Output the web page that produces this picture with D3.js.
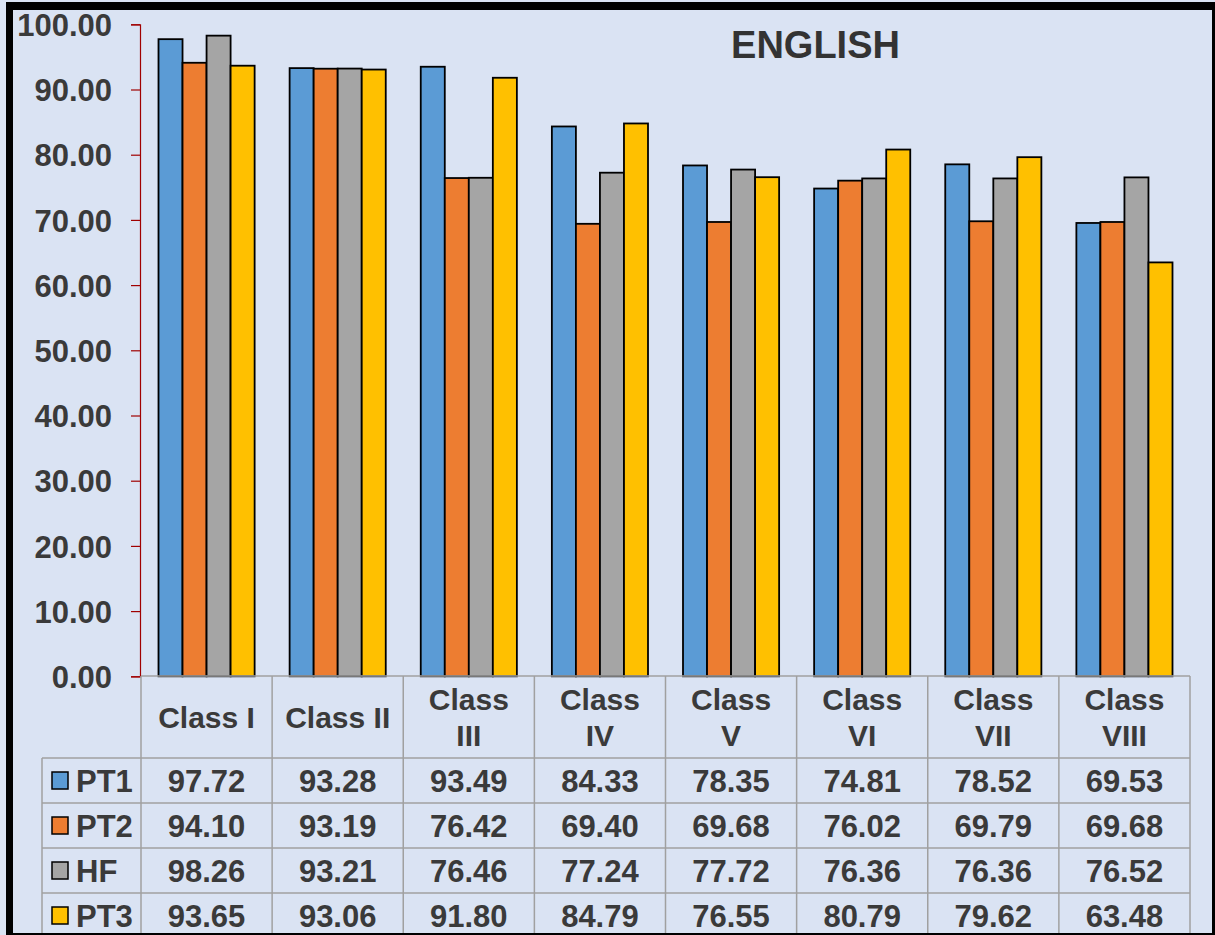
<!DOCTYPE html>
<html><head><meta charset="utf-8">
<script src="https://cdn.jsdelivr.net/npm/d3@7"></script>
<style>html,body{margin:0;padding:0;background:#dae3f3;}svg{display:block;}</style>
</head><body>
<svg id="c" width="1215" height="935"></svg>
<script>
const categories = ["Class I","Class II","Class III","Class IV","Class V","Class VI","Class VII","Class VIII"];
const categoryLines = [["Class I"],["Class II"],["Class","III"],["Class","IV"],["Class","V"],["Class","VI"],["Class","VII"],["Class","VIII"]];
const seriesNames = ["PT1","PT2","HF","PT3"];
const seriesColors = ["#5b9bd5","#ed7d31","#a5a5a5","#ffc000"];
const PT1 = [97.72,93.28,93.49,84.33,78.35,74.81,78.52,69.53];
const PT2 = [94.10,93.19,76.42,69.40,69.68,76.02,69.79,69.68];
const HF  = [98.26,93.21,76.46,77.24,77.72,76.36,76.36,76.52];
const PT3 = [93.65,93.06,91.80,84.79,76.55,80.79,79.62,63.48];
const seriesValues = [PT1,PT2,HF,PT3];
const yTicks = [0,10,20,30,40,50,60,70,80,90,100];
const title = "ENGLISH";

const svg = d3.select("#c");
const font = "'Liberation Sans', Arial, sans-serif";
const textColor = "#3a3a3a";
const gridColor = "#a0a0a0";

svg.append("rect").attr("width",1215).attr("height",935).attr("fill","#dae3f3");

const x = d3.scaleBand().domain(categories).range([141,1190]);
const x1 = d3.scaleBand().domain(seriesNames).range([17.5, x.bandwidth()-17.5]);
const y = d3.scaleLinear().domain([0,100]).range([676.3,24.3]);

// bars
seriesNames.forEach((s,si)=>{
  svg.append("g").selectAll("rect").data(categories).join("rect")
    .attr("x",c=>x(c)+x1(s))
    .attr("y",(c,i)=>y(seriesValues[si][i]))
    .attr("width",x1.bandwidth())
    .attr("height",(c,i)=>y(0)-y(seriesValues[si][i]))
    .attr("fill",seriesColors[si])
    .attr("stroke","#000").attr("stroke-width",1.8);
});

// y axis
const ax = svg.append("g").attr("transform","translate(140,0)")
  .call(d3.axisLeft(y).tickValues(yTicks).tickFormat(d3.format(".2f")).tickSize(9).tickPadding(19));
ax.select(".domain").attr("stroke","#a00000").attr("stroke-width",1.2);
ax.selectAll(".tick line").attr("stroke","#a00000").attr("stroke-width",1.2);
ax.selectAll(".tick text").attr("fill",textColor).attr("font-family",font)
  .attr("font-size",31).attr("font-weight","bold").attr("dy","0.36em");

// table
const headTop = 676, headBot = 758, rowH = 45;
const tg = svg.append("g").attr("stroke",gridColor).attr("stroke-width",1.5).attr("fill","none");
tg.append("line").attr("x1",141).attr("x2",1190).attr("y1",headTop).attr("y2",headTop);
tg.append("line").attr("x1",42).attr("x2",1190).attr("y1",headBot).attr("y2",headBot);
seriesNames.forEach((s,i)=>{
  tg.append("line").attr("x1",42).attr("x2",1190).attr("y1",headBot+rowH*(i+1)).attr("y2",headBot+rowH*(i+1));
});
tg.append("line").attr("x1",42).attr("x2",42).attr("y1",headBot).attr("y2",940);
categories.forEach(c=>{
  tg.append("line").attr("x1",x(c)).attr("x2",x(c)).attr("y1",headTop).attr("y2",940);
});
tg.append("line").attr("x1",1190).attr("x2",1190).attr("y1",headTop).attr("y2",940);

// header labels
categories.forEach((c,i)=>{
  const lines = categoryLines[i];
  const cx = x(c)+x.bandwidth()/2;
  const baselines = lines.length===1 ? [728] : [710,746];
  lines.forEach((t,j)=>{
    svg.append("text").attr("x",cx).attr("y",baselines[j]).attr("text-anchor","middle")
      .attr("font-family",font).attr("font-size",30).attr("font-weight","bold")
      .attr("fill",textColor).text(t);
  });
});

// rows
seriesNames.forEach((s,si)=>{
  const top = headBot + rowH*si;
  svg.append("rect").attr("x",52).attr("y",top+14).attr("width",16).attr("height",17)
    .attr("fill",seriesColors[si]).attr("stroke","#000").attr("stroke-width",1.5);
  svg.append("text").attr("x",76).attr("y",top+34).attr("font-family",font)
    .attr("font-size",31).attr("font-weight","bold").attr("fill",textColor).text(s);
  categories.forEach((c,i)=>{
    svg.append("text").attr("x",x(c)+x.bandwidth()/2).attr("y",top+34).attr("text-anchor","middle")
      .attr("font-family",font).attr("font-size",31).attr("font-weight","bold")
      .attr("fill",textColor).text(d3.format(".2f")(seriesValues[si][i]));
  });
});

// title
svg.append("text").attr("x",815.5).attr("y",58).attr("text-anchor","middle")
  .attr("font-family",font).attr("font-size",38).attr("font-weight","bold")
  .attr("fill","#333").text(title);

// frame
svg.append("rect").attr("x",6).attr("y",2).attr("width",1209).attr("height",8).attr("fill","#000");
svg.append("rect").attr("x",6).attr("y",2).attr("width",7).attr("height",933).attr("fill","#000");
svg.append("rect").attr("x",1212).attr("y",2).attr("width",3).attr("height",933).attr("fill","#000");
svg.append("rect").attr("x",6).attr("y",933).attr("width",1209).attr("height",2).attr("fill","#000");
</script>
</body></html>
